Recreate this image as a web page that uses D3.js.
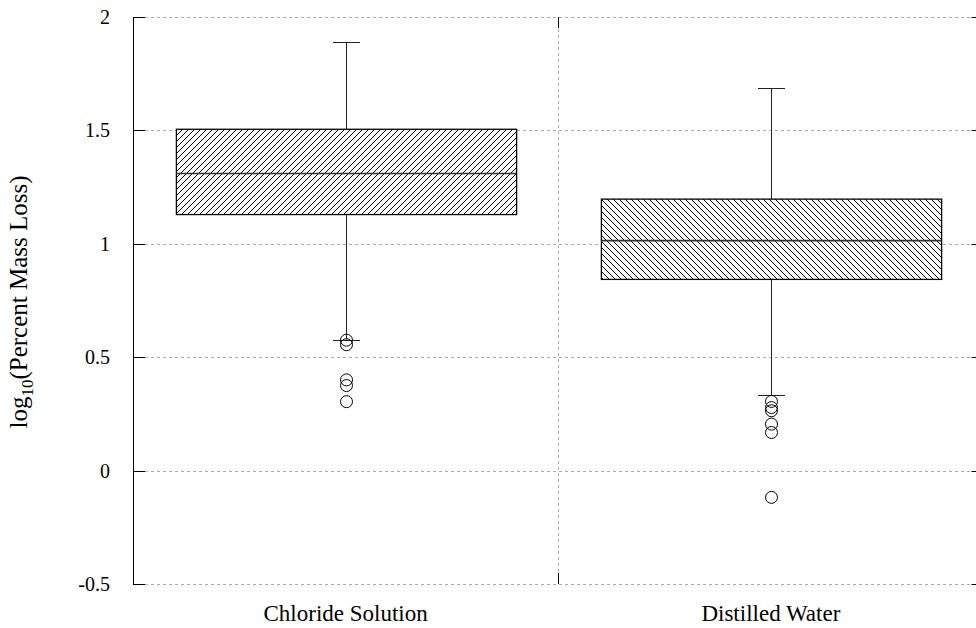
<!DOCTYPE html>
<html>
<head>
<meta charset="utf-8">
<script src="https://cdn.jsdelivr.net/npm/d3@7"></script>
<style>
  html, body { margin: 0; padding: 0; background: #fff; }
  svg { display: block; }
</style>
</head>
<body>
<svg id="chart" width="976" height="628" font-family="'Liberation Serif', 'Times New Roman', serif"></svg>
<script>
// Box plot summary for each group (log10 of percent mass loss)
const categories = ["Chloride Solution", "Distilled Water"];
const whiskerLow = [0.578, 0.333];
const q1 = [1.129, 0.843];
const median = [1.310, 1.014];
const q3 = [1.505, 1.197];
const whiskerHigh = [1.890, 1.686];
const outliers = [
  [0.575, 0.555, 0.400, 0.375, 0.304],
  [0.305, 0.278, 0.264, 0.205, 0.168, -0.118]
];
const yTicks = [-0.5, 0, 0.5, 1, 1.5, 2];
const yTickLabels = ["-0.5", "0", "0.5", "1", "1.5", "2"];
const hatchIds = ["hatchUp", "hatchDown"];

const svg = d3.select("#chart");
const margin = { left: 133, top: 17, bottom: 44 };
const width = 976, height = 628;
const plotRight = 983.5;

const x = d3.scaleBand()
  .domain(categories)
  .range([margin.left, plotRight])
  .paddingInner(0)
  .paddingOuter(0);

const y = d3.scaleLinear()
  .domain([-0.5, 2])
  .range([height - margin.bottom, margin.top]);

// Hatch patterns: "/" for first box, "\" for second
const defs = svg.append("defs");
const sp = 6;
defs.append("pattern")
  .attr("id", "hatchUp")
  .attr("patternUnits", "userSpaceOnUse")
  .attr("width", sp).attr("height", sp)
  .append("path")
  .attr("d", `M-1,1 l2,-2 M0,${sp} l${sp},-${sp} M${sp - 1},${sp + 1} l2,-2`)
  .attr("stroke", "#000").attr("stroke-width", 1);
defs.append("pattern")
  .attr("id", "hatchDown")
  .attr("patternUnits", "userSpaceOnUse")
  .attr("width", sp).attr("height", sp)
  .append("path")
  .attr("d", `M-1,-1 l2,2 M0,0 l${sp},${sp} M${sp - 1},-1 l2,2`)
  .attr("stroke", "#000").attr("stroke-width", 1);

// Horizontal dashed grid
svg.append("g")
  .selectAll("line")
  .data(yTicks)
  .join("line")
  .attr("x1", margin.left).attr("x2", width)
  .attr("y1", d => Math.round(y(d)) + 0.5)
  .attr("y2", d => Math.round(y(d)) + 0.5)
  .attr("stroke", "#aaa")
  .attr("stroke-dasharray", "3,3");

// Vertical dashed separator between groups
const sepX = Math.round(x(categories[1])) + 0.5;
svg.append("line")
  .attr("x1", sepX).attr("x2", sepX)
  .attr("y1", y(2)).attr("y2", y(-0.5))
  .attr("stroke", "#aaa")
  .attr("stroke-dasharray", "3,3");

// Separator tick marks at top and bottom
svg.append("g").selectAll("line")
  .data([[y(2), y(2) + 11], [y(-0.5), y(-0.5) - 11]])
  .join("line")
  .attr("x1", sepX).attr("x2", sepX)
  .attr("y1", d => d[0]).attr("y2", d => d[1])
  .attr("stroke", "#000");

// Left axis line
const axX = margin.left + 0.5;
svg.append("line")
  .attr("x1", axX).attr("x2", axX)
  .attr("y1", y(2)).attr("y2", y(-0.5) + 0.5)
  .attr("stroke", "#000");

// Y ticks (inside) on both sides
const tickG = svg.append("g");
tickG.selectAll("line.l")
  .data(yTicks)
  .join("line")
  .attr("class", "l")
  .attr("x1", margin.left).attr("x2", margin.left + 12)
  .attr("y1", d => Math.round(y(d)) + 0.5)
  .attr("y2", d => Math.round(y(d)) + 0.5)
  .attr("stroke", "#000");
tickG.selectAll("line.r")
  .data(yTicks)
  .join("line")
  .attr("class", "r")
  .attr("x1", plotRight - 12).attr("x2", plotRight)
  .attr("y1", d => Math.round(y(d)) + 0.5)
  .attr("y2", d => Math.round(y(d)) + 0.5)
  .attr("stroke", "#000");

// Y tick labels
svg.append("g").selectAll("text")
  .data(yTicks)
  .join("text")
  .attr("x", 110)
  .attr("y", d => y(d))
  .attr("dy", "0.35em")
  .attr("text-anchor", "end")
  .attr("font-size", 20)
  .text((d, i) => yTickLabels[i]);

// Category labels
svg.append("g").selectAll("text")
  .data(categories)
  .join("text")
  .attr("x", d => x(d) + x.bandwidth() / 2)
  .attr("y", 621)
  .attr("text-anchor", "middle")
  .attr("font-size", 23)
  .text(d => d);

// Y axis title with subscript
const yTitle = svg.append("text")
  .attr("transform", "translate(27,302) rotate(-90)")
  .attr("text-anchor", "middle")
  .attr("font-size", 25);
yTitle.append("tspan").text("log");
yTitle.append("tspan").attr("font-size", 17).attr("dy", 6).text("10");
yTitle.append("tspan").attr("dy", -6).text("(Percent Mass Loss)");

// Boxes
const boxW = x.bandwidth() * 0.8;
const capW = 27;
categories.forEach((c, i) => {
  const cx = Math.round(x(c) + x.bandwidth() / 2) + 0.5;
  const g = svg.append("g");
  // whiskers
  g.append("line")
    .attr("x1", cx).attr("x2", cx)
    .attr("y1", y(q3[i])).attr("y2", y(whiskerHigh[i]))
    .attr("stroke", "#222");
  g.append("line")
    .attr("x1", cx).attr("x2", cx)
    .attr("y1", y(q1[i])).attr("y2", y(whiskerLow[i]))
    .attr("stroke", "#222");
  [whiskerHigh[i], whiskerLow[i]].forEach(v => {
    g.append("line")
      .attr("x1", cx - capW / 2).attr("x2", cx + capW / 2)
      .attr("y1", Math.round(y(v)) + 0.5).attr("y2", Math.round(y(v)) + 0.5)
      .attr("stroke", "#222");
  });
  // box
  g.append("rect")
    .attr("x", cx - boxW / 2)
    .attr("y", y(q3[i]))
    .attr("width", boxW)
    .attr("height", y(q1[i]) - y(q3[i]))
    .attr("fill", "#fff");
  g.append("rect")
    .attr("x", cx - boxW / 2)
    .attr("y", y(q3[i]))
    .attr("width", boxW)
    .attr("height", y(q1[i]) - y(q3[i]))
    .attr("fill", `url(#${hatchIds[i]})`)
    .attr("stroke", "#000")
    .attr("stroke-width", 1.3);
  // median
  g.append("line")
    .attr("x1", cx - boxW / 2).attr("x2", cx + boxW / 2)
    .attr("y1", y(median[i])).attr("y2", y(median[i]))
    .attr("stroke", "#333")
    .attr("stroke-width", 1.6);
  // outliers
  g.selectAll("circle")
    .data(outliers[i])
    .join("circle")
    .attr("cx", cx)
    .attr("cy", d => y(d))
    .attr("r", 6)
    .attr("fill", "none")
    .attr("stroke", "#000")
    .attr("stroke-width", 1);
});
</script>
</body>
</html>
